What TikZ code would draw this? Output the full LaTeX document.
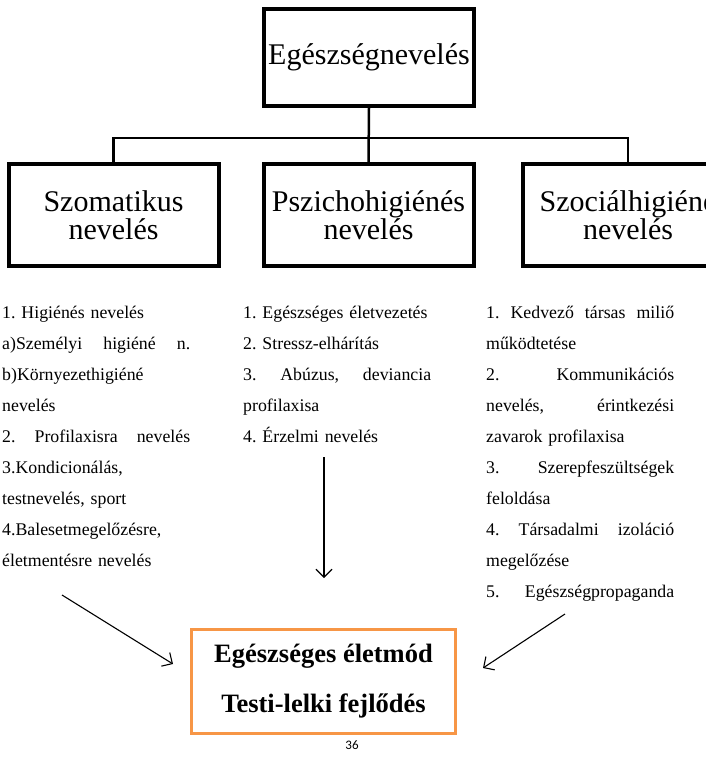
\documentclass[tikz,border=0pt]{standalone}
\usepackage{fontspec}
\setmainfont{Liberation Serif}
\newfontfamily\pagefont{Carlito}
\usetikzlibrary{arrows.meta}
\definecolor{boxorange}{HTML}{F79646}
\newcommand\jline[1]{\makebox[188pt][l]{#1}}
\frenchspacing
\begin{document}
\begin{tikzpicture}[x=1pt,y=-1pt,
  head/.style={draw, line width=4pt, minimum width=210pt, minimum height=97pt, inner sep=0pt, align=center, font=\fontsize{30}{28}\selectfont},
  rowbox/.style={head, minimum height=102pt},
  listcol/.style={anchor=base west, inner sep=0pt, text width=188pt, align=left, font=\frenchspacing\fontsize{17.8}{31}\selectfont},
  tree/.style={line width=2.5pt},
  arr/.style={-{Straight Barb[length=8pt,width=16pt]}, line width=1.1pt}]
\useasboundingbox (0,0) rectangle (706,764);
\clip (0,0) rectangle (706,764);
\fill[white] (0,0) rectangle (706,764);

\node[head] (top) at (369,57.5) {Egészségnevelés};
\node[rowbox] (b1) at (113.5,215) {Szomatikus\\nevelés};
\node[rowbox] (b2) at (368.5,215) {Pszichohigiénés\\nevelés};
\node[rowbox] (b3) at (628,215) {Szociálhigiéné\\nevelés};

\draw[tree] (top.south) -- (b2.north);
\draw[tree] (b1.north) -- ++(0,-24) -| (b3.north);

\node[listcol] (c1) at (2,318) {1. Higiénés nevelés\\
\jline{a)Személyi\hfill higiéné\hfill n.}\\
b)Környezethigiéné\\
nevelés\\
\jline{2.\hfill Profilaxisra\hfill nevelés}\\
3.Kondicionálás,\\
testnevelés, sport\\
4.Balesetmegelőzésre,\\
életmentésre nevelés};

\node[listcol] (c2) at (243,318) {1. Egészséges életvezetés\\
2. Stressz-elhárítás\\
\jline{3.\hfill Abúzus,\hfill deviancia}\\
profilaxisa\\
4. Érzelmi nevelés};

\node[listcol] (c3) at (486,318) {\jline{1.\hfill Kedvező\hfill társas\hfill miliő}\\
működtetése\\
\jline{2.\hfill Kommunikációs}\\
\jline{nevelés,\hfill érintkezési}\\
zavarok profilaxisa\\
\jline{3.\hfill Szerepfeszültségek}\\
feloldása\\
\jline{4.\hfill Társadalmi\hfill izoláció}\\
megelőzése\\
\jline{5.\hfill Egészségpropaganda}};

\node[draw=boxorange, line width=3pt, minimum width=264pt, minimum height=104pt, inner sep=0pt, align=center, font=\bfseries\fontsize{26.5}{50}\selectfont] (res) at (323.5,681.5) {Egészséges életmód\\Testi-lelki fejlődés};

\coordinate (l0) at (62,595);
\coordinate (l1) at (173,664);
\coordinate (m0) at (324,457);
\coordinate (m1) at (324,578);
\coordinate (r0) at (565,614);
\coordinate (r1) at (483,668);
\draw[arr] (l0) -- (l1);
\draw[arr] (m0) -- (m1);
\draw[arr] (r0) -- (r1);

\node[font=\pagefont\fontsize{13}{15}\selectfont, inner sep=0pt] (pg) at (352,745) {36};
\end{tikzpicture}
\end{document}
